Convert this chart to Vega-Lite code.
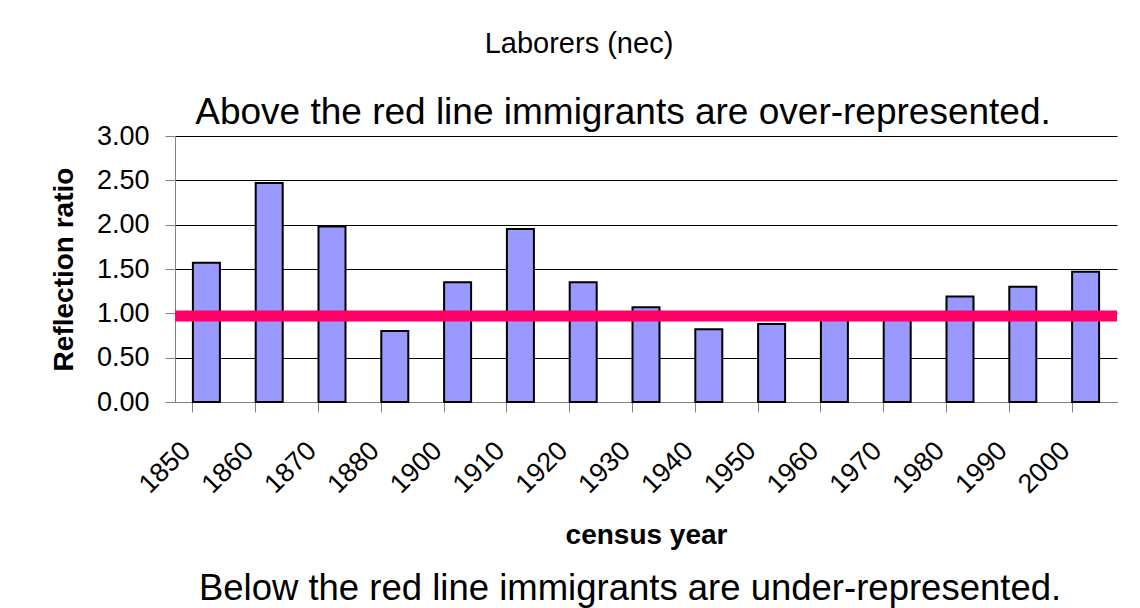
{
  "$schema": "https://vega.github.io/schema/vega-lite/v6.json",
  "width": 942,
  "height": 266,
  "padding": {"left": 50, "top": 30, "right": 5, "bottom": 5},
  "background": "white",
  "title": {
    "text": "Laborers (nec)",
    "fontSize": 29,
    "font": "Liberation Sans",
    "fontWeight": "normal",
    "color": "black",
    "anchor": "middle",
    "dx": -67,
    "offset": 35
  },
  "layer": [
    {
      "data": {
        "values": [
          {"year": "1850", "ratio": 1.57},
          {"year": "1860", "ratio": 2.47},
          {"year": "1870", "ratio": 1.98},
          {"year": "1880", "ratio": 0.80},
          {"year": "1900", "ratio": 1.35},
          {"year": "1910", "ratio": 1.95},
          {"year": "1920", "ratio": 1.35},
          {"year": "1930", "ratio": 1.07},
          {"year": "1940", "ratio": 0.82},
          {"year": "1950", "ratio": 0.88},
          {"year": "1960", "ratio": 0.96},
          {"year": "1970", "ratio": 0.93},
          {"year": "1980", "ratio": 1.19},
          {"year": "1990", "ratio": 1.30},
          {"year": "2000", "ratio": 1.47}
        ]
      },
      "mark": {"type": "bar", "fill": "#9999FF", "stroke": "black", "strokeWidth": 2},
      "encoding": {
        "x": {
          "field": "year",
          "type": "nominal",
          "sort": null,
          "scale": {"paddingInner": 0.57, "paddingOuter": 0.285},
          "axis": {
            "title": "census year",
            "titleFontSize": 28,
            "titleFontWeight": "bold",
            "titleColor": "black",
            "titlePadding": 24,
            "labelAngle": -45,
            "labelFontSize": 27,
            "labelColor": "black",
            "labelPadding": 25,
            "labelOffset": -29,
            "bandPosition": 0,
            "tickSize": 10,
            "tickColor": "#808080",
            "domainColor": "#808080",
            "grid": false
          }
        },
        "y": {
          "field": "ratio",
          "type": "quantitative",
          "scale": {"domain": [0, 3], "nice": false},
          "axis": {
            "title": "Reflection ratio",
            "titleFontSize": 28,
            "titleFontWeight": "bold",
            "titleColor": "black",
            "titlePadding": 18,
            "values": [0, 0.5, 1, 1.5, 2, 2.5, 3],
            "format": ".2f",
            "labelFontSize": 27,
            "labelColor": "black",
            "labelPadding": 16,
            "tickSize": 10,
            "tickColor": "#808080",
            "domainColor": "#808080",
            "grid": true,
            "gridColor": "black",
            "gridWidth": 1
          }
        }
      }
    },
    {
      "data": {"values": [{"level": 0.97}]},
      "mark": {"type": "rule", "color": "#FF0066", "strokeWidth": 11},
      "encoding": {"y": {"field": "level", "type": "quantitative"}}
    },
    {
      "data": {"values": [{"label": "Above the red line immigrants are over-represented."}]},
      "mark": {
        "type": "text",
        "fontSize": 37,
        "font": "Liberation Sans",
        "color": "black",
        "align": "center",
        "baseline": "alphabetic",
        "dx": -23,
        "dy": -12
      },
      "encoding": {"x": {"datum": "1930"}, "y": {"datum": 3}, "text": {"field": "label"}}
    },
    {
      "data": {"values": [{"label": "Below the red line immigrants are under-represented."}]},
      "mark": {
        "type": "text",
        "fontSize": 36.5,
        "font": "Liberation Sans",
        "color": "black",
        "align": "center",
        "baseline": "alphabetic",
        "dx": -16,
        "dy": 198
      },
      "encoding": {"x": {"datum": "1930"}, "y": {"datum": 0}, "text": {"field": "label"}}
    }
  ],
  "config": {
    "view": {"stroke": null},
    "font": "Liberation Sans"
  }
}
